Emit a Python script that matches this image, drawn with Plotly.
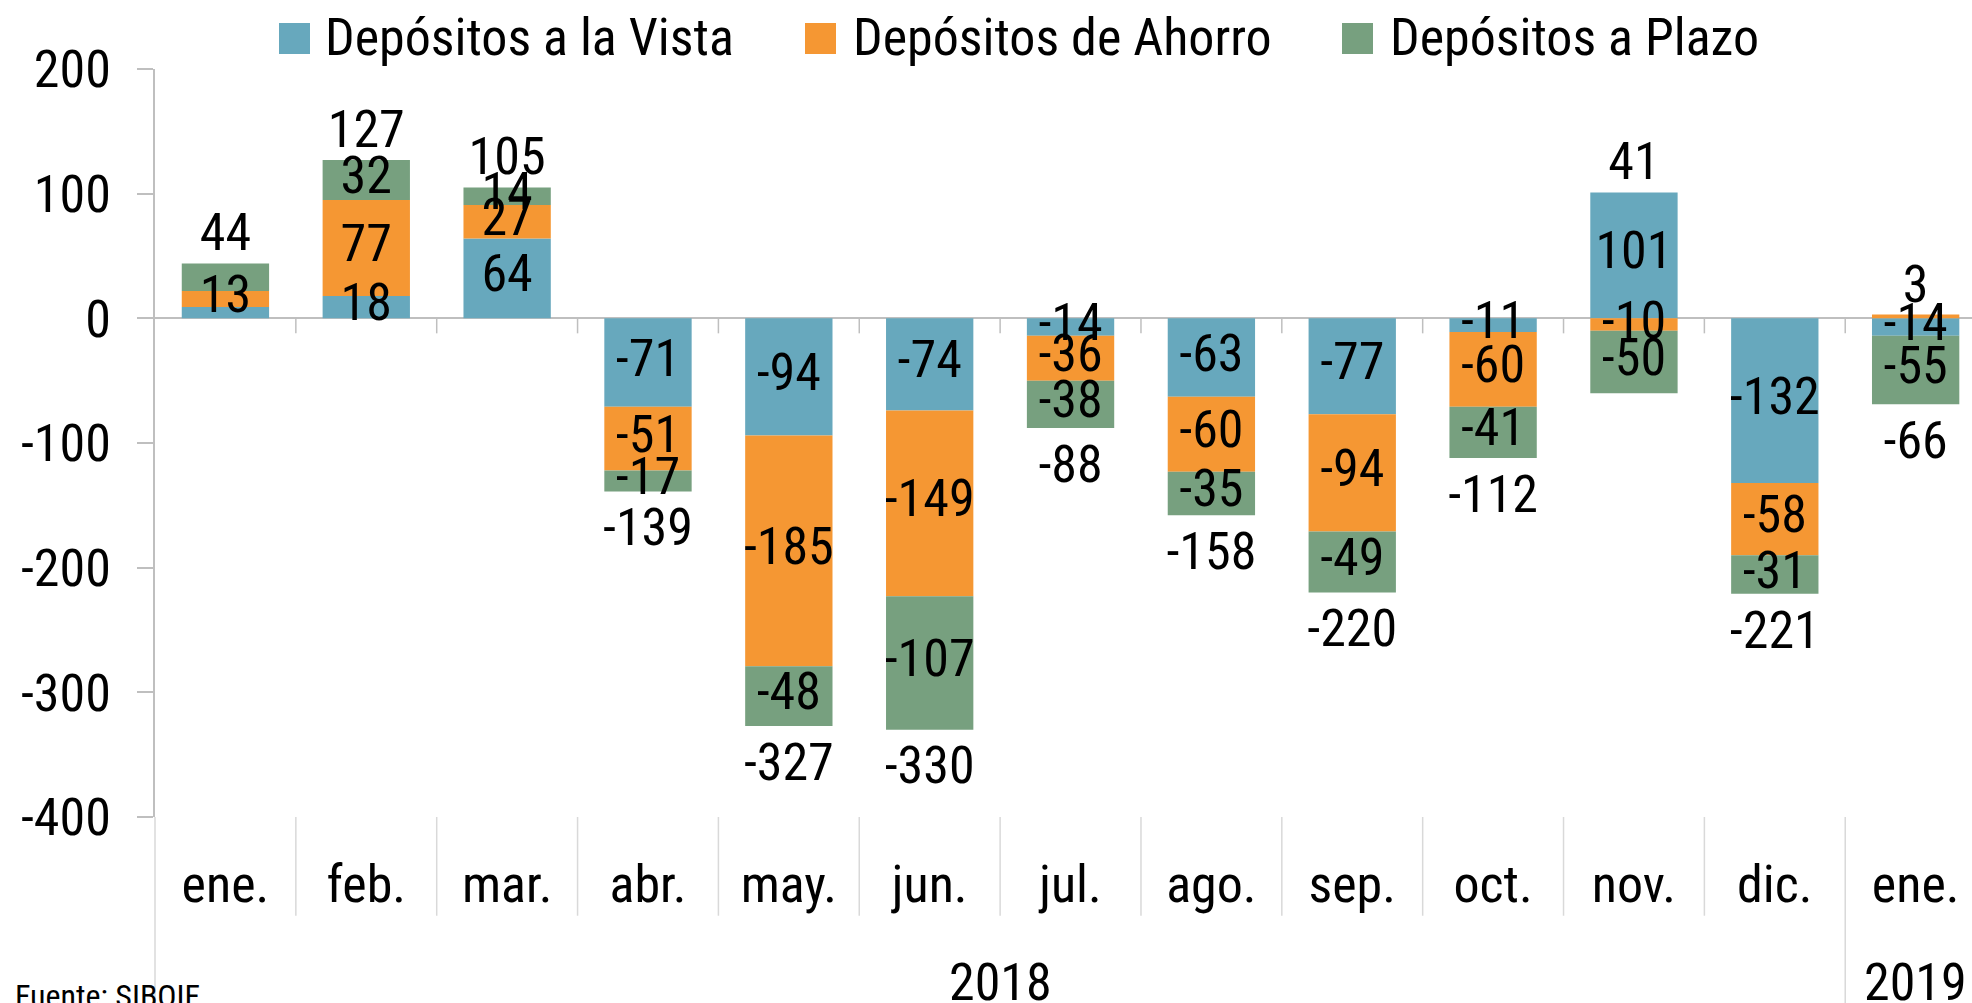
import plotly.graph_objects as go

# Variación mensual de depósitos (millones)
meses = ["ene.", "feb.", "mar.", "abr.", "may.", "jun.", "jul.",
         "ago.", "sep.", "oct.", "nov.", "dic.", "ene."]
anios = ["2018", "2019"]

vista = [9, 18, 64, -71, -94, -74, -14, -63, -77, -11, 101, -132, -14]
ahorro = [13, 77, 27, -51, -185, -149, -36, -60, -94, -60, -10, -58, 3]
plazo = [22, 32, 14, -17, -48, -107, -38, -35, -49, -41, -50, -31, -55]
total = [44, 127, 105, -139, -327, -330, -88, -158, -220, -112, 41, -221, -66]

eje_y = [-400, -300, -200, -100, 0, 100, 200]

series = [
    ("Depósitos a la Vista", vista, "#67A8BD"),
    ("Depósitos de Ahorro", ahorro, "#F59733"),
    ("Depósitos a Plazo", plazo, "#77A07F"),
]
# etiquetas que no aparecen en el original
ocultas = {(0, 0), (2, 0)}

FUENTE = "Roboto Condensed, Roboto, sans-serif"
TAM = 52
W, H = 1972, 1003
L, T, B = 155, 69, 186
ancho = W - L
alto = H - T - B


def px(x):
    return (x - L) / ancho


def py(y):
    return (H - B - y) / alto


def etiqueta_fuente(size=TAM):
    return dict(family=FUENTE, size=size, color="black")


x = list(range(len(meses)))
fig = go.Figure()

for nombre, valores, color in series:
    fig.add_trace(go.Bar(x=x, y=valores, name=nombre, marker_color=color,
                         marker_line_width=0, showlegend=False))

# etiquetas centradas en cada segmento (apilado relativo)
arriba = [0] * len(x)
abajo = [0] * len(x)
for s, (nombre, valores, color) in enumerate(series):
    ys, txt = [], []
    tx_out, ty_out, tt_out = [], [], []
    for i, v in enumerate(valores):
        if v >= 0:
            c = arriba[i] + v / 2
            arriba[i] += v
        else:
            c = abajo[i] + v / 2
            abajo[i] += v
        if (s, i) in ocultas:
            continue
        if 0 <= v < 5:
            tx_out.append(i)
            ty_out.append(arriba[i])
            tt_out.append(str(v))
            continue
        ys.append((i, c))
        txt.append(str(v))
    fig.add_trace(go.Scatter(x=[p[0] for p in ys], y=[p[1] for p in ys],
                             text=txt, mode="text", showlegend=False,
                             cliponaxis=False, textfont=etiqueta_fuente()))
    if tx_out:
        fig.add_trace(go.Scatter(x=tx_out, y=ty_out, text=tt_out, mode="text",
                                 textposition="top center", showlegend=False,
                                 cliponaxis=False, textfont=etiqueta_fuente()))

# totales (marcador invisible para separar el texto de la barra)
invisible = dict(size=22, color="rgba(0,0,0,0)")
pos = [i for i in x if total[i] >= 0]
neg = [i for i in x if total[i] < 0]
fig.add_trace(go.Scatter(x=pos, y=[arriba[i] for i in pos],
                         text=[str(total[i]) for i in pos], mode="text",
                         textposition="top center", showlegend=False, cliponaxis=False,
                         textfont=etiqueta_fuente()))
fig.add_trace(go.Scatter(x=neg, y=[abajo[i] for i in neg],
                         text=[str(total[i]) for i in neg], mode="markers+text",
                         marker=invisible, hoverinfo="skip",
                         textposition="bottom center", showlegend=False, cliponaxis=False,
                         textfont=etiqueta_fuente()))

gris = "#BFBFBF"
shapes = []
# marcas en la línea de cero y separadores de categorías
for k in range(len(meses) - 1):
    shapes.append(dict(type="line", xref="x", yref="y", ysizemode="pixel", yanchor=0,
                       x0=k + 0.5, x1=k + 0.5, y0=0, y1=-15,
                       line=dict(color=gris, width=1.5)))
    fondo = -0.249 if k == len(meses) - 2 else -0.132
    shapes.append(dict(type="line", xref="x", yref="paper",
                       x0=k + 0.5, x1=k + 0.5, y0=0, y1=fondo,
                       line=dict(color="#D9D9D9", width=1.5)))
# prolongación del eje vertical
shapes.append(dict(type="line", xref="paper", yref="paper", x0=0, x1=0,
                   y0=0, y1=-0.249, line=dict(color="#D9D9D9", width=1.5)))

# leyenda manual
annotations = []
leyenda_x = [(279, 323), (805, 851), (1342, 1388)]
for (nombre, valores, color), (xc, xt) in zip(series, leyenda_x):
    shapes.append(dict(type="rect", xref="paper", yref="paper",
                       x0=px(xc), x1=px(xc + 31), y0=py(54), y1=py(23),
                       fillcolor=color, line_width=0))
    annotations.append(dict(text=nombre, xref="paper", yref="paper",
                            x=px(xt), y=py(38), xanchor="left", yanchor="middle",
                            showarrow=False, font=etiqueta_fuente(52)))

annotations.append(dict(text=anios[0], xref="x", yref="paper", x=5.5, y=py(982),
                        xanchor="center", yanchor="middle", showarrow=False,
                        font=etiqueta_fuente()))
annotations.append(dict(text=anios[1], xref="x", yref="paper", x=12, y=py(982),
                        xanchor="center", yanchor="middle", showarrow=False,
                        font=etiqueta_fuente()))
annotations.append(dict(text="Fuente: SIBOIF", xref="paper", yref="paper",
                        x=px(13), y=py(975), xanchor="left", yanchor="top",
                        showarrow=False, font=etiqueta_fuente(32)))

fig.update_layout(
    width=W, height=H,
    margin=dict(l=L, r=0, t=T, b=B, pad=0),
    barmode="relative",
    bargap=0.38,
    plot_bgcolor="white",
    paper_bgcolor="white",
    font=dict(family=FUENTE, color="black"),
    shapes=shapes,
    annotations=annotations,
    showlegend=False,
)
fig.update_xaxes(range=[-0.5, 12.4], tickvals=x, ticktext=meses, ticks="",
                 showline=False, showgrid=False, zeroline=False, automargin=False,
                 ticklabelstandoff=32, tickfont=etiqueta_fuente(TAM))
fig.update_yaxes(range=[-400, 200], tickvals=eje_y, ticktext=[str(v) for v in eje_y],
                 showline=True, linecolor=gris, linewidth=1.5, automargin=False,
                 ticks="outside", ticklen=16, tickcolor=gris, tickwidth=1.5,
                 showgrid=False, zeroline=True, zerolinecolor=gris, zerolinewidth=2,
                 ticklabelstandoff=16, tickfont=etiqueta_fuente(TAM))

fig.write_html("out.html", config={"displayModeBar": False},
               post_script="document.body.style.margin = '0';")
